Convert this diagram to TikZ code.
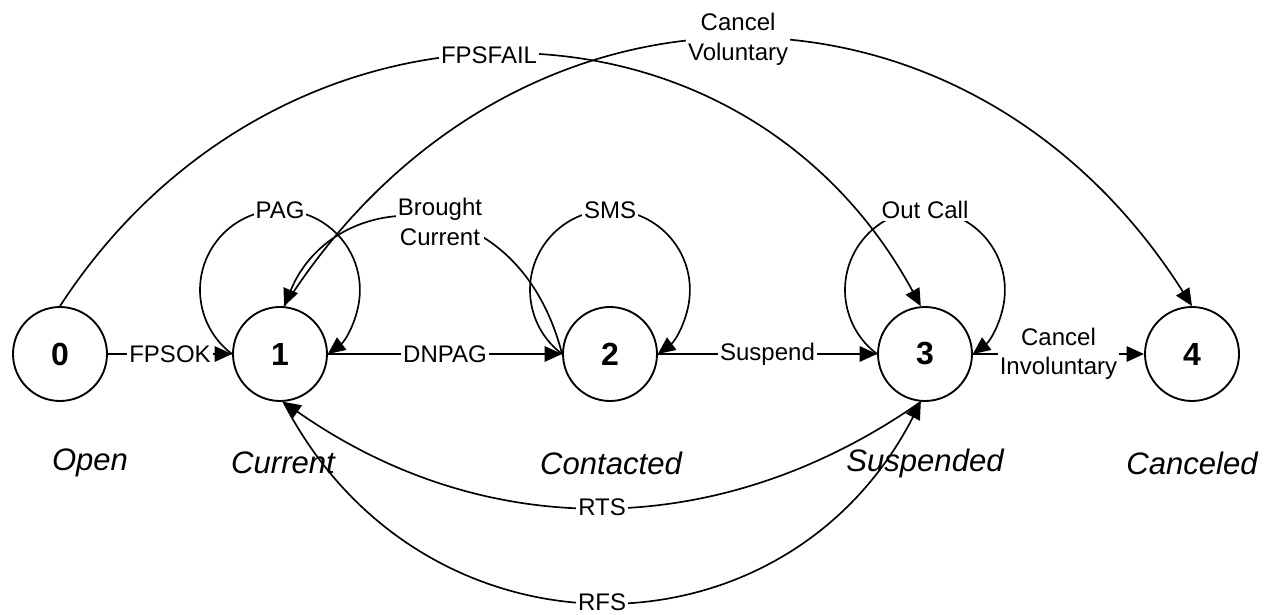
\documentclass[tikz,border=0pt]{standalone}
\usepackage{fontspec}
\setmainfont{Liberation Sans}
\usetikzlibrary{arrows.meta,calc}
\begin{document}
\begin{tikzpicture}[x=0.75pt,y=0.75pt,
  state/.style={circle,draw,line width=1.4pt,minimum size=70.5pt,inner sep=0pt,
    font=\fontsize{24}{28}\selectfont\bfseries},
  edge/.style={line width=1.25pt,-{Triangle[length=13pt,width=11.5pt]}},
  lbl/.style={fill=white,inner sep=1.5pt,align=center,
    font=\fontsize{18}{22}\selectfont},
  statename/.style={font=\fontsize{23.3}{28}\selectfont\itshape}]
\useasboundingbox (0,0) rectangle (1270,614);

% states
\node[state] (n0) at (60,260) {0};
\node[state] (n1) at (280,260) {1};
\node[state] (n2) at (610,260) {2};
\node[state] (n3) at (925,260) {3};
\node[state] (n4) at (1192,260) {4};

% state names
\node[statename] (t0) at (90,151) {Open};
\node[statename] (t1) at (283,151) {Current};
\node[statename] (t2) at (611,151) {Contacted};
\node[statename] (t3) at (925,151) {Suspended};
\node[statename] (t4) at (1192,151) {Canceled};

% straight transitions
\draw[edge] (n0) -- node[lbl] (lfpsok) {FPSOK} (n1);
\draw[edge] (n1) -- node[lbl] (ldnpag) {DNPAG} (n2);
\draw[edge] (n2) -- node[lbl] (lsusp) {Suspend} (n3);
\draw[edge] (n3) -- node[lbl] (lcinv) {Cancel\\Involuntary} (n4);

% self loops
\draw[edge] (n1.west) arc[start angle=233.2,end angle=-53.2,radius=59.96pt];
\node[lbl] (lpag) at ($(n1)+(0,144)$) {PAG};
\draw[edge] (n2.west) arc[start angle=233.2,end angle=-53.2,radius=59.96pt];
\node[lbl] (lsms) at ($(n2)+(0,144)$) {SMS};
\draw[edge] (n3.west) arc[start angle=233.2,end angle=-53.2,radius=59.96pt];
\node[lbl] (lout) at ($(n3)+(0,144)$) {Out Call};

% contacted back to current
\draw[edge] (n2.west) .. controls +(-45,175) and +(50,122) .. (n1.85);
\node[lbl] (lbc) at (440,392) {Brought\\Current};

% long arcs over the top
\draw[edge] (n0.north) .. controls +(218,335) and +(-182,335) .. (n3.95)
  node[lbl,pos=0.485] (lfail) {FPSFAIL};
\draw[edge] (n1.85) .. controls +(226,356) and +(-226,356) .. (n4.north)
  node[lbl,pos=0.5] (lcvol) {Cancel\\Voluntary};

% arcs underneath
\draw[edge] (n3.265) .. controls +(-201,-141) and +(201,-141) .. (n1.274)
  node[lbl,pos=0.5] (lrts) {RTS};
\draw[edge] (n1.274) .. controls +(137,-267) and +(-137,-267) .. (n3.265)
  node[lbl,pos=0.5] (lrfs) {RFS};
\end{tikzpicture}
\end{document}
